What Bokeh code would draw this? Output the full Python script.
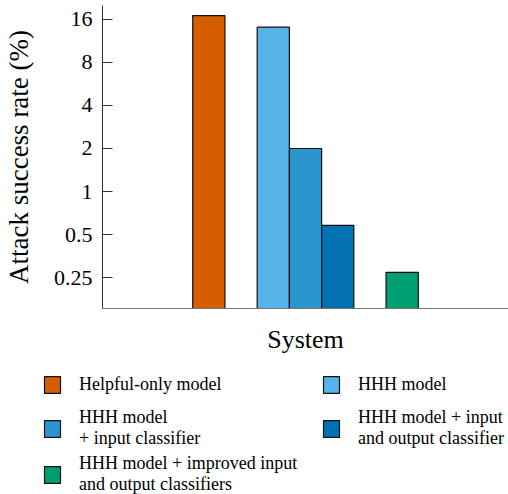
from bokeh.plotting import figure
from bokeh.models import (ColumnDataSource, FactorRange, Range1d, FixedTicker,
                          LinearAxis, Legend, LegendItem)
from bokeh.layouts import column
from bokeh.embed import file_html
from bokeh.resources import INLINE

# ---- data ----
systems = ["Helpful-only model",
           "HHH model",
           "HHH model\n+ input classifier",
           "HHH model + input\nand output classifier",
           "HHH model + improved input\nand output classifiers"]
groups = ["helpful-only", "hhh", "hhh", "hhh", "improved"]
attack_success_rate = [17.0, 14.1, 2.0, 0.58, 0.272]
colors = ["#D55E00", "#56B4E9", "#2C95D0", "#0072B2", "#009E73"]
y_ticks = [0.25, 0.5, 1, 2, 4, 8, 16]
y_tick_labels = ["0.25", "0.5", "1", "2", "4", "8", "16"]
legend_rows = [[0, 1], [2, 3], [4]]

FONT = "Liberation Serif"

factors = list(zip(groups, systems))
src = ColumnDataSource(dict(x=factors, top=attack_success_rate, color=colors,
                            name=systems))

p = figure(width=508, height=360, output_backend="svg", toolbar_location=None,
           x_range=FactorRange(*factors, group_padding=1.0, factor_padding=0.0,
                               subgroup_padding=0.0, range_padding=2.8,
                               range_padding_units="absolute"),
           y_range=Range1d(0.152, 20), y_axis_type="log", x_axis_type=None,
           min_border_left=101, min_border_right=0, min_border_top=5,
           min_border_bottom=52)
p.frame_align = False
p.outline_line_color = None
p.grid.visible = False

bars = p.vbar(x="x", top="top", bottom=0.01, width=1.0, source=src,
              fill_color="color", line_color="#111111", line_width=1.2)

yax = p.yaxis[0]
yax.ticker = FixedTicker(ticks=y_ticks, minor_ticks=[])
yax.major_label_overrides = {t: l for t, l in zip(y_ticks, y_tick_labels)}
yax.major_tick_in = 10
yax.major_tick_out = 0
yax.major_tick_line_color = "#333333"
yax.axis_line_color = "#333333"
yax.major_label_standoff = 10
yax.major_label_text_font = FONT
yax.major_label_text_font_size = "22px"
yax.major_label_text_color = "black"
yax.axis_label = "Attack success rate (%)"
yax.axis_label_text_font = FONT
yax.axis_label_text_font_size = "27px"
yax.axis_label_text_font_style = "normal"
yax.axis_label_text_color = "black"
yax.axis_label_standoff = 17

xax = LinearAxis(ticker=FixedTicker(ticks=[]), axis_label="System")
xax.axis_line_color = "#777777"
xax.axis_label_text_font = FONT
xax.axis_label_text_font_size = "26px"
xax.axis_label_text_font_style = "normal"
xax.axis_label_text_color = "black"
xax.axis_label_standoff = 16
xax.major_tick_line_color = None
xax.minor_tick_line_color = None
p.add_layout(xax, "below")

# ---- legend figure: one horizontal legend per row ----
q = figure(width=508, height=134, output_backend="svg", toolbar_location=None,
           x_range=Range1d(0, 1), y_range=Range1d(0, 1),
           x_axis_type=None, y_axis_type=None,
           min_border_left=0, min_border_top=0, min_border_right=0,
           min_border_bottom=0)
q.frame_align = False
q.outline_line_color = None
q.grid.visible = False
lbars = q.vbar(x="x", top="top", width=1, source=ColumnDataSource(
    dict(x=[-5.0] * len(colors), top=[-5.0] * len(colors), color=colors)),
    fill_color="color", line_color="#111111", line_width=1.2)

row_bottoms = [99, 45, -1]
for row, vy in zip(legend_rows, row_bottoms):
    items = [LegendItem(label=systems[i], renderers=[lbars], index=i) for i in row]
    leg = Legend(items=items, orientation="horizontal", location=(42, vy),
                 margin=0, padding=0, glyph_width=20, glyph_height=21,
                 label_standoff=17, spacing=18, label_width=224,
                 label_text_font=FONT, label_text_font_size="18px",
                 label_text_color="black",
                 border_line_color=None, background_fill_alpha=0)
    q.add_layout(leg, "center")

layout = column(p, q, spacing=0)
open("out.html", "w").write(file_html(layout, INLINE))
